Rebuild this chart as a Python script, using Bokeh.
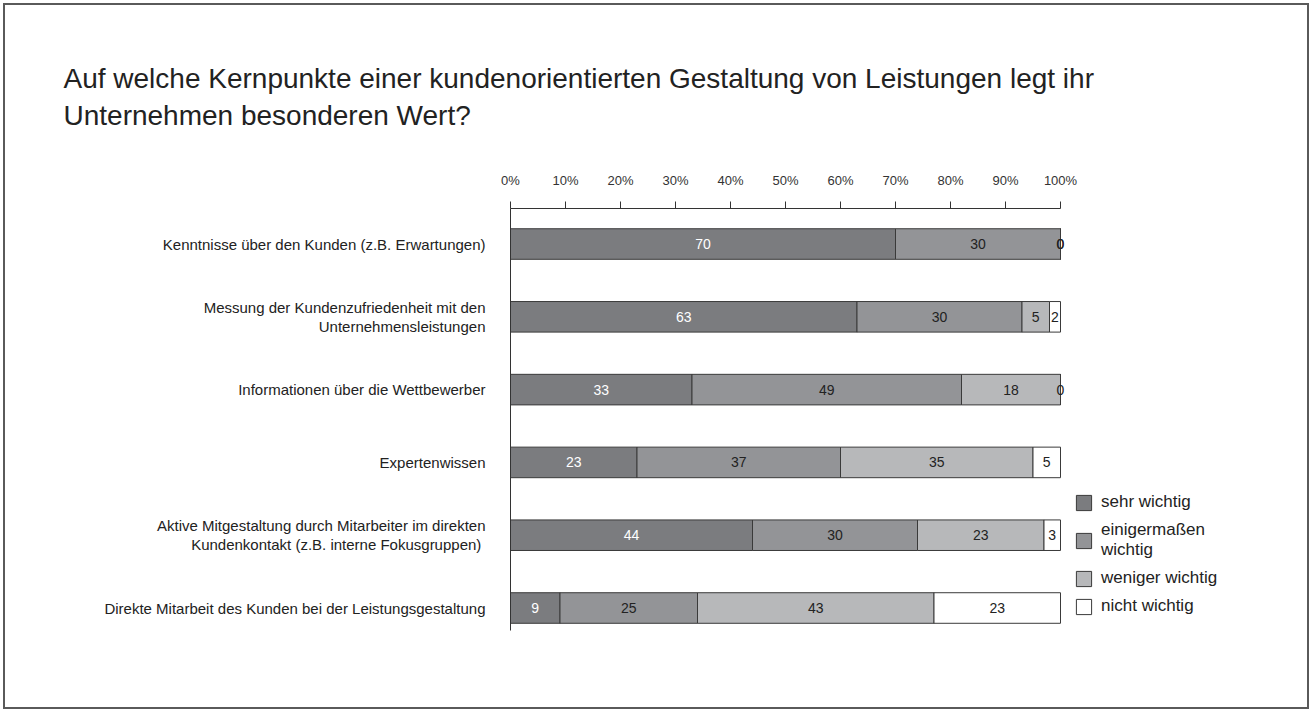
from bokeh.plotting import figure
from bokeh.models import (ColumnDataSource, Range1d, SingleIntervalTicker, FixedTicker,
                          PrintfTickFormatter, Title, Legend, LegendItem)
from bokeh.core.properties import value
from bokeh.embed import file_html
from bokeh.resources import INLINE

# ---------------- data ----------------
title_lines = [
    "Auf welche Kernpunkte einer kundenorientierten Gestaltung von Leistungen legt ihr",
    "Unternehmen besonderen Wert?",
]
categories = [
    "Kenntnisse über den Kunden (z.B. Erwartungen)",
    "Messung der Kundenzufriedenheit mit den\nUnternehmensleistungen",
    "Informationen über die Wettbewerber",
    "Expertenwissen",
    "Aktive Mitgestaltung durch Mitarbeiter im direkten\nKundenkontakt  (z.B. interne Fokusgruppen)",
    "Direkte Mitarbeit des Kunden bei der Leistungsgestaltung",
]
series_names = ["sehr wichtig", "einigermaßen\nwichtig", "weniger wichtig", "nicht wichtig"]
sehr_wichtig = [70, 63, 33, 23, 44, 9]
einigermassen_wichtig = [30, 30, 49, 37, 30, 25]
weniger_wichtig = [0, 5, 18, 35, 23, 43]
nicht_wichtig = [0, 2, 0, 5, 3, 23]
series_values = [sehr_wichtig, einigermassen_wichtig, weniger_wichtig, nicht_wichtig]

# ---------------- styles ----------------
colors = ["#7b7c7f", "#939497", "#b7b8ba", "#ffffff"]
label_colors = ["#ffffff", "#222222", "#222222", "#222222"]
SANS = "Liberation Sans"

p = figure(width=1306, height=706, output_backend="svg", toolbar_location=None,
           x_range=Range1d(0, 144.18), y_range=Range1d(5.309, -0.488),
           x_axis_location="above",
           min_border_left=505, min_border_top=203, min_border_bottom=81, min_border_right=8,
           styles={"border": "2px solid #5a5a5a", "margin": "3px 0 0 3px"})
p.grid.visible = False
p.outline_line_color = None
p.background_fill_color = "white"
p.border_fill_color = "white"

xa = p.xaxis[0]
xa.ticker = SingleIntervalTicker(interval=10, num_minor_ticks=0)
xa.bounds = (0, 100)
xa.formatter = PrintfTickFormatter(format="%d%%")
xa.major_tick_in = 0
xa.major_tick_out = 7
xa.minor_tick_out = 0
xa.minor_tick_in = 0
xa.axis_line_color = "#333333"
xa.major_tick_line_color = "#333333"
xa.major_label_standoff = 14
xa.major_label_text_font = SANS
xa.major_label_text_font_size = "13px"
xa.major_label_text_color = "#333333"

ya = p.yaxis[0]
ya.ticker = FixedTicker(ticks=list(range(len(categories))))
ya.major_label_overrides = {i: c for i, c in enumerate(categories)}
ya.major_tick_in = 0
ya.major_tick_out = 0
ya.minor_tick_in = 0
ya.minor_tick_out = 0
ya.axis_line_color = "#333333"
ya.major_label_standoff = 25
ya.major_label_text_font = SANS
ya.major_label_text_font_size = "15px"
ya.major_label_text_line_height = 1.1
ya.major_label_text_color = "#222222"

items = []
left = [0] * len(categories)
for name, vals, col, lcol in zip(series_names, series_values, colors, label_colors):
    right = [l + v for l, v in zip(left, vals)]
    src = ColumnDataSource(dict(
        y=list(range(len(categories))),
        left=left, right=right,
        mid=[(l + r) / 2 for l, r in zip(left, right)],
        label=[str(v) for v in vals],
    ))
    r = p.hbar(y="y", left="left", right="right", height=0.42, source=src,
               fill_color=col, line_color="#3a3a3a", line_width=1)
    p.text(x="mid", y="y", text="label", source=src, text_align="center",
           text_baseline="middle", text_font=value(SANS), text_font_size="14px",
           text_color=lcol)
    items.append(LegendItem(label=name, renderers=[r]))
    left = right

legend = Legend(items=items, location=(564, 14), glyph_width=19, glyph_height=19,
                label_text_font=SANS, label_text_font_size="17px", label_text_color="#222222",
                spacing=8, padding=0, margin=0, label_standoff=8,
                border_line_color=None, background_fill_alpha=0)
p.add_layout(legend)

p.add_layout(Title(text="\n".join(title_lines), align="left", offset=-447, standoff=77,
                   text_font=SANS, text_font_size="28px", text_font_style="normal",
                   text_color="#222222", text_line_height=1.2), "above")

open("out.html", "w").write(file_html(p, INLINE))
